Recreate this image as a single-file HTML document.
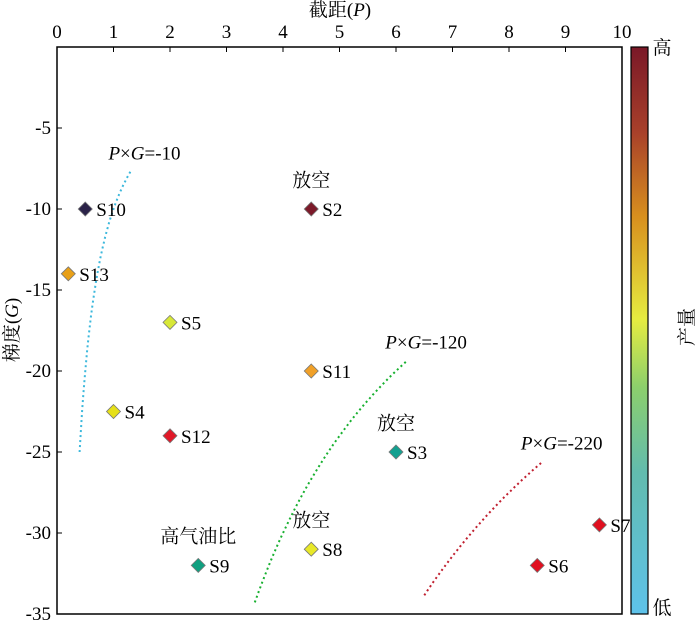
<!DOCTYPE html>
<html><head><meta charset="utf-8"><style>
body{margin:0;background:#fff;}
svg{display:block;font-family:"Liberation Serif","Noto Serif CJK SC",serif;}
</style></head><body>
<svg id="c" width="700" height="623" viewBox="0 0 700 623">
<defs><linearGradient id="cb" x1="0" y1="1" x2="0" y2="0">
<stop offset="0" stop-color="#5ec2ea"/><stop offset="0.25" stop-color="#62bcae"/><stop offset="0.4" stop-color="#8ccf6c"/><stop offset="0.52" stop-color="#e6ec40"/><stop offset="0.7" stop-color="#d8901e"/><stop offset="0.85" stop-color="#a8402a"/><stop offset="1" stop-color="#7a1828"/>
</linearGradient></defs>
</svg>
<script>
const names=["S10","S13","S5","S4","S12","S2","S11","S3","S8","S9","S7","S6"];
const pVals=[0.5,0.2,2,1,2,4.5,4.5,6,4.5,2.5,9.6,8.5];
const gVals=[-10,-14,-17,-22.5,-24,-10,-20,-25,-31,-32,-29.5,-32];
const colors=["#2a2248","#e8a018","#d8e838","#e6e018","#e01828","#7c1a2a","#f0a028","#14a090","#e8e828","#10a080","#e01020","#e01020"];
const xTicks=[0,1,2,3,4,5,6,7,8,9,10];
const yTicks=[-5,-10,-15,-20,-25,-30,-35];
const curveConsts=[-10,-120,-220];
const curveRanges=[[0.4,1.3],[3.5,6.2],[6.5,8.6]];
const curveColors=["#3cb8dc","#18b030","#c02030"];
const notes=[["放空",4.5,-8.6],["放空",6,-23.6],["放空",4.5,-29.6],["高气油比",2.5,-30.6]];
const X0=57,X1=622,Y0=47,Y1=614;
const sx=p=>X0+p*(X1-X0)/10, sy=g=>Y0-g*(Y1-Y0)/35;
const svg=document.getElementById('c');const NS="http://www.w3.org/2000/svg";
function mk(t,a,txt){const e=document.createElementNS(NS,t);for(const k in a)e.setAttribute(k,a[k]);if(txt!=null)e.textContent=txt;svg.appendChild(e);return e;}
let e=mk('rect',{x:X0,y:Y0,width:X1-X0,height:Y1-Y0,fill:'none',stroke:'#000','stroke-width':1.5});

xTicks.forEach(t=>{let l=mk('line',{x1:sx(t),x2:sx(t),y1:Y0,y2:Y0+5,stroke:'#000'});

let s=mk('text',{x:sx(t),y:Y0-9,'text-anchor':'middle','font-size':19},t);
});
yTicks.forEach(t=>{let l=mk('line',{x1:X0,x2:X0+5,y1:sy(t),y2:sy(t),stroke:'#000'});

let s=mk('text',{x:X0-6,y:sy(t)+6,'text-anchor':'end','font-size':19},t);
});
curveConsts.forEach((c,i)=>{const [a,b]=curveRanges[i];let d="";for(let k=0;k<=40;k++){const p=a+(b-a)*k/40;d+=(k?"L":"M")+sx(p).toFixed(1)+","+sy(c/p).toFixed(1);}
let pa=mk('path',{d:d,fill:'none',stroke:curveColors[i],'stroke-width':2,'stroke-dasharray':'2,3'});

const lx=sx(b)-22,ly=sy(c/b)-12;
let t=mk('text',{x:lx,y:ly,'font-size':19});t.innerHTML='<tspan font-style="italic">P</tspan>×<tspan font-style="italic">G</tspan>='+c;
});
names.forEach((n,i)=>{const x=sx(pVals[i]),y=sy(gVals[i]);
let d=mk('polygon',{points:`${x},${y-7} ${x+7},${y} ${x},${y+7} ${x-7},${y}`,fill:colors[i],stroke:'#777','stroke-width':0.8});

let t=mk('text',{x:x+11,y:y+7,'font-size':19},n);
});
notes.forEach(n=>{let t=mk('text',{x:sx(n[1]),y:sy(n[2]),'text-anchor':'middle','font-size':19},n[0]);
});
let r=mk('rect',{x:631,y:Y0,width:17,height:Y1-Y0,fill:'url(#cb)',stroke:'#000','stroke-width':1.2});

[["高",54],["低",614]].forEach(a=>{let t=mk('text',{x:662,y:a[1],'text-anchor':'middle','font-size':19},a[0]);
});
let q=mk('text',{x:0,y:0,'text-anchor':'middle','font-size':19,transform:'translate(693,327) rotate(-90)'},'产量');

let xt=mk('text',{x:340,y:16,'text-anchor':'middle','font-size':19});xt.innerHTML='截距(<tspan font-style="italic">P</tspan>)';

let yt=mk('text',{x:0,y:0,'text-anchor':'middle','font-size':19,transform:'translate(18,330) rotate(-90)'});yt.innerHTML='梯度(<tspan font-style="italic">G</tspan>)';

</script>
</body></html>
